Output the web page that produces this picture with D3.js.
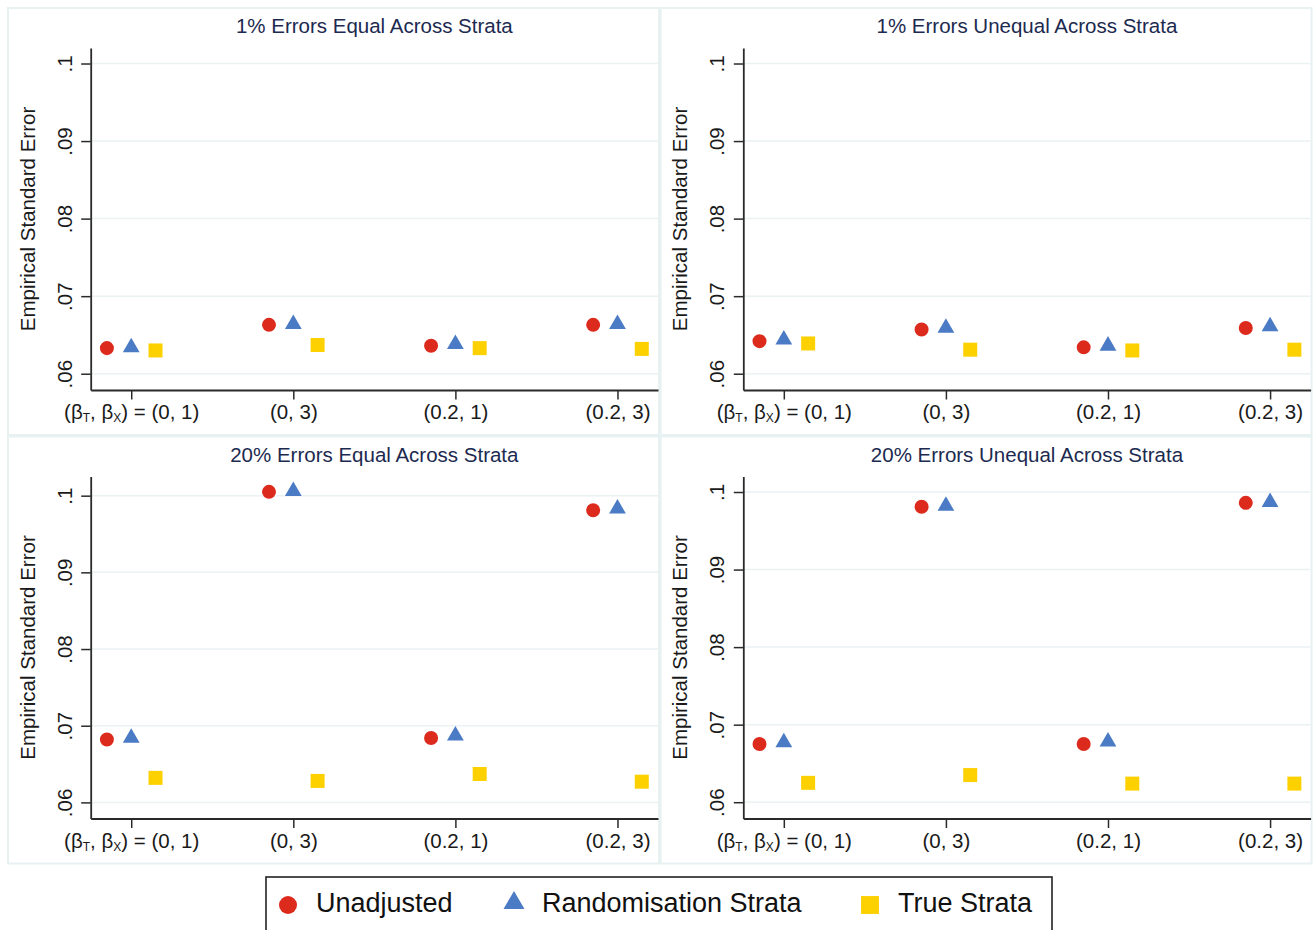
<!DOCTYPE html>
<html>
<head>
<meta charset="utf-8">
<script src="https://cdn.jsdelivr.net/npm/d3@7"></script>
<style>
  body { margin: 0; background: #fff; }
  svg { display: block; font-family: "Liberation Sans", Arial, Helvetica, sans-serif; }
</style>
</head>
<body>
<svg id="chart"></svg>
<script>
// chart values
var categories = ["(0, 1)", "(0, 3)", "(0.2, 1)", "(0.2, 3)"]
var panelTitles = ["1% Errors Equal Across Strata", "1% Errors Unequal Across Strata",
                   "20% Errors Equal Across Strata", "20% Errors Unequal Across Strata"]
var seriesNames = ["Unadjusted", "Randomisation Strata", "True Strata"]

// one row per panel, one value per category
var unadjusted = [
    [0.0633, 0.0663, 0.0636, 0.0663],
    [0.0642, 0.0657, 0.0634, 0.0659],
    [0.0682, 0.1005, 0.0684, 0.0981],
    [0.0675, 0.0981, 0.0675, 0.0986]
]
var randomStrata = [
    [0.0634, 0.0664, 0.0638, 0.0664],
    [0.0644, 0.0659, 0.0636, 0.0661],
    [0.0684, 0.1006, 0.0687, 0.0983],
    [0.0677, 0.0982, 0.0678, 0.0987]
]
var trueStrata = [
    [0.0630, 0.0637, 0.0633, 0.0632],
    [0.0639, 0.0631, 0.0630, 0.0631],
    [0.0632, 0.0628, 0.0637, 0.0627],
    [0.0625, 0.0635, 0.0624, 0.0624]
]
var yTicks = [0.06, 0.07, 0.08, 0.09, 0.1]
var yTickLabels = [".06", ".07", ".08", ".09", ".1"]
var yDomains = [[0.0579, 0.1020], [0.0579, 0.1020], [0.0579, 0.1025], [0.0579, 0.1020]]

var colors = ["#dc2a1d", "#4a7bc4", "#fdd000"]
var shapes = [d3.symbolCircle, d3.symbolTriangle, d3.symbolSquare]
var offsets = [-0.15, 0, 0.15]

var width = 1313
var height = 930
var fontSize = 20.5

var svg = d3.select("#chart")
    .attr("width", width)
    .attr("height", height)

var drawPanel = function(p, x0, y0)
{
    var pw = 651, ph = 427
    var margins = {left: 82.7, right: 1, top: 40, bottom: 45}
    var plotBottom = ph - margins.bottom
    var plotRight = pw - margins.right

    var g = svg.append("g")
        .attr("transform", "translate(" + x0 + "," + y0 + ")")

    g.append("rect")
        .attr("x", 0).attr("y", 0)
        .attr("width", pw).attr("height", ph)
        .attr("fill", "#fff")
        .attr("stroke", "#e8f1f1")
        .attr("stroke-width", 2)

    var xScale = d3.scaleLinear()
        .domain([0.75, 4.25])
        .range([margins.left, plotRight])

    var yScale = d3.scaleLinear()
        .domain(yDomains[p])
        .range([plotBottom, margins.top])

    // grid
    g.selectAll("line.grid")
        .data(yTicks)
        .enter()
        .append("line")
        .attr("class", "grid")
        .attr("x1", margins.left)
        .attr("x2", plotRight)
        .attr("y1", function(d){ return yScale(d) })
        .attr("y2", function(d){ return yScale(d) })
        .attr("stroke", "#eaf2f3")
        .attr("stroke-width", 1.5)

    var yAxis = d3.axisLeft(yScale)
        .tickValues(yTicks)
        .tickFormat(function(d, i){ return yTickLabels[i] })
        .tickSize(9.5)
        .tickSizeOuter(0)

    var ya = g.append("g")
        .attr("transform", "translate(" + margins.left + ",0)")
        .call(yAxis)
    ya.selectAll("text")
        .attr("transform", "rotate(-90)")
        .attr("x", 0)
        .attr("y", -19)
        .attr("dy", 0)
        .attr("text-anchor", "middle")

    var xAxis = d3.axisBottom(xScale)
        .tickValues([1, 2, 3, 4])
        .tickFormat(function(d){ return categories[d - 1] })
        .tickSize(9.5)
        .tickSizeOuter(0)

    var xa = g.append("g")
        .attr("transform", "translate(0," + plotBottom + ")")
        .call(xAxis)
    xa.selectAll("text")
        .attr("y", 29)
        .attr("dy", 0)

    // first tick label carries the beta prefix
    var first = xa.select(".tick text")
    first.text(null)
    first.append("tspan").text("(β")
    first.append("tspan").text("T").attr("font-size", 12).attr("dy", 3)
    first.append("tspan").text(", β").attr("dy", -3)
    first.append("tspan").text("X").attr("font-size", 12).attr("dy", 3)
    first.append("tspan").text(") = " + categories[0]).attr("dy", -3)

    ;[ya, xa].forEach(function(a)
    {
        a.select(".domain").attr("stroke", "#2a2a2a").attr("stroke-width", 1.8)
        a.selectAll(".tick line").attr("stroke", "#2a2a2a").attr("stroke-width", 1.5)
        a.selectAll("text")
            .attr("font-size", fontSize)
            .attr("fill", "#1a1a1a")
            .attr("font-family", "Liberation Sans, Arial, sans-serif")
    })

    g.append("text")
        .text(panelTitles[p])
        .attr("x", (margins.left + plotRight) / 2)
        .attr("y", 25)
        .attr("text-anchor", "middle")
        .attr("font-size", fontSize)
        .attr("fill", "#1c2a50")

    g.append("text")
        .text("Empirical Standard Error")
        .attr("transform", "rotate(-90)")
        .attr("x", -(margins.top + plotBottom) / 2)
        .attr("y", 26.5)
        .attr("text-anchor", "middle")
        .attr("font-size", fontSize)
        .attr("fill", "#1a1a1a")

    var series = [unadjusted[p], randomStrata[p], trueStrata[p]]
    var sizes = [154, 122, 196]
    series.forEach(function(vals, s)
    {
        g.selectAll("path.s" + s)
            .data(vals)
            .enter()
            .append("path")
            .attr("class", "s" + s)
            .attr("d", d3.symbol().type(shapes[s]).size(sizes[s]))
            .attr("transform", function(d, i)
            {
                return "translate(" + xScale(i + 1 + offsets[s]) + "," + yScale(d) + ")"
            })
            .attr("fill", colors[s])
    })
}

drawPanel(0, 8, 8)
drawPanel(1, 660.6, 8)
drawPanel(2, 8, 436.5)
drawPanel(3, 660.6, 436.5)

// legend
var legend = svg.append("g")
legend.append("rect")
    .attr("x", 266).attr("y", 877)
    .attr("width", 786).attr("height", 70)
    .attr("fill", "#fff")
    .attr("stroke", "#222")
    .attr("stroke-width", 1.6)

var legendX = [288, 514, 870]
var legendSizes = [254, 190, 320]
seriesNames.forEach(function(name, s)
{
    legend.append("path")
        .attr("d", d3.symbol().type(shapes[s]).size(legendSizes[s]))
        .attr("transform", "translate(" + legendX[s] + "," + (s == 1 ? 903 : 905) + ")")
        .attr("fill", colors[s])
    legend.append("text")
        .text(name)
        .attr("x", legendX[s] + 28)
        .attr("y", 912)
        .attr("font-size", 27)
        .attr("fill", "#111")
})
</script>
</body>
</html>
